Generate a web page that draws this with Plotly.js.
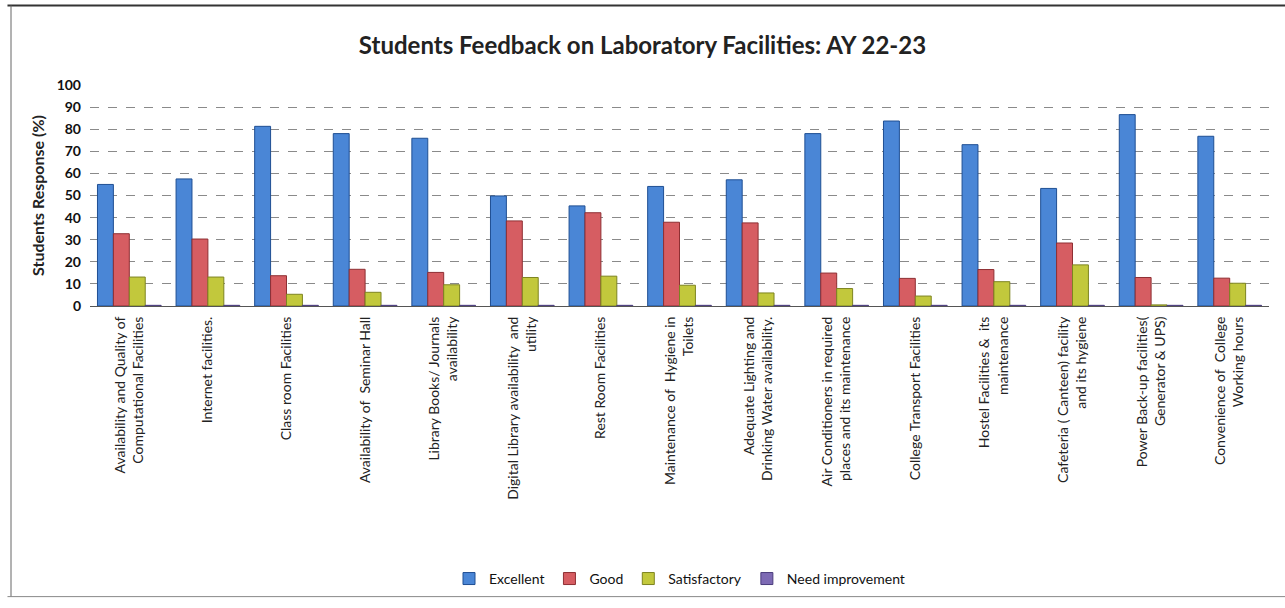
<!DOCTYPE html>
<html>
<head>
<meta charset="utf-8">
<script src="https://cdn.plot.ly/plotly-3.0.1.min.js"></script>
<style>html,body{margin:0;padding:0;background:#fff;}#chart{width:1285px;height:608px;}</style>
</head>
<body>
<div id="chart"></div>
<script>
const categories = [
  "Availability and Quality of<br>Computational Facilities",
  "Internet facilities.",
  "Class room Facilities",
  "Availability of  Seminar Hall",
  "Library Books/ Journals<br>availability",
  "Digital Library availability  and<br>utility",
  "Rest Room Facilities",
  "Maintenance of  Hygiene in<br>Toilets",
  "Adequate Lighting and<br>Drinking Water availability.",
  "Air Conditioners in required<br>places and its maintenance",
  "College Transport Facilities",
  "Hostel Facilities &  its<br>maintenance",
  "Cafeteria ( Canteen) facility<br>and its hygiene",
  "Power Back-up facilities(<br>Generator & UPS)",
  "Convenience of  College<br>Working hours"
];
const excellent = [55, 57.5, 81.3, 78, 75.9, 49.8, 45.3, 54.1, 57.1, 78, 83.7, 73, 53.2, 86.6, 76.8];
const good = [32.7, 30.3, 13.7, 16.6, 15.2, 38.5, 42.2, 37.9, 37.6, 14.9, 12.5, 16.5, 28.5, 12.9, 12.6];
const satisfactory = [13.1, 13.1, 5.3, 6.2, 9.6, 12.9, 13.5, 9.4, 5.9, 7.9, 4.5, 11, 18.6, 0.5, 10.3];
const needImprovement = [0.3, 0.3, 0.3, 0.3, 0.3, 0.3, 0.3, 0.3, 0.3, 0.3, 0.3, 0.3, 0.3, 0.3, 0.3];
const seriesNames = ["Excellent", "Good", "Satisfactory", "Need improvement"];

const colors = ["#4a86d6", "#d65d62", "#c2c83c", "#7d6ab4"];
const lines = ["#1f4f93", "#8e2f33", "#7d8420", "#4a3c7c"];
const values = [excellent, good, satisfactory, needImprovement];

const traces = values.map((v, i) => ({
  type: "bar",
  name: seriesNames[i],
  x: categories,
  y: v,
  marker: {color: colors[i], line: {color: lines[i], width: 1}},
  hoverinfo: "x+y+name"
}));

const font = "Lato, 'Open Sans', sans-serif";

const layout = {
  width: 1285,
  height: 608,
  paper_bgcolor: "#ffffff",
  plot_bgcolor: "#ffffff",
  margin: {l: 90, r: 16, t: 85, b: 299},
  barmode: "group",
  bargap: 0.19,
  bargroupgap: 0,
  title: {
    text: "<b>Students Feedback on Laboratory Facilities: AY 22-23</b>",
    x: 0.5, xanchor: "center", y: 0.925, yanchor: "middle",
    font: {family: font, size: 24, color: "#222"}
  },
  xaxis: {
    type: "category",
    tickangle: -90,
    tickfont: {family: font, size: 14, color: "#222"},
    showgrid: false,
    showline: true,
    linecolor: "#555",
    linewidth: 1,
    ticks: "",
    ticklabelstandoff: 4,
    automargin: false
  },
  yaxis: {
    range: [0, 100],
    dtick: 10,
    tickfont: {family: font, size: 14, color: "#111", weight: "bold"},
    showgrid: true,
    gridcolor: "#8a8a8a",
    griddash: "dash",
    gridwidth: 1,
    zeroline: false,
    showline: false,
    ticks: "",
    ticklabelstandoff: 8,
    title: {
      text: "<b>Students Response (%)</b>",
      font: {family: font, size: 16, color: "#222"},
      standoff: 8
    },
    automargin: false
  },
  legend: {
    orientation: "h",
    x: 0.5, xanchor: "center",
    y: -1.235, yanchor: "middle",
    font: {family: font, size: 14, color: "#111"},
    itemwidth: 30,
    traceorder: "normal"
  },
  shapes: [
    {type: "line", xref: "paper", yref: "paper", x0: -0.07, x1: 1.02, y0: 1.36, y1: 1.36, line: {color: "#333", width: 2}},
    {type: "line", xref: "paper", yref: "paper", x0: -0.067, x1: -0.067, y0: 1.36, y1: -1.315, line: {color: "#666", width: 1}},
    {type: "line", xref: "paper", yref: "paper", x0: -0.07, x1: 1.02, y0: -1.315, y1: -1.315, line: {color: "#888", width: 1}}
  ]
};

Plotly.newPlot("chart", traces, layout, {displayModeBar: false, staticPlot: true});
</script>
</body>
</html>
